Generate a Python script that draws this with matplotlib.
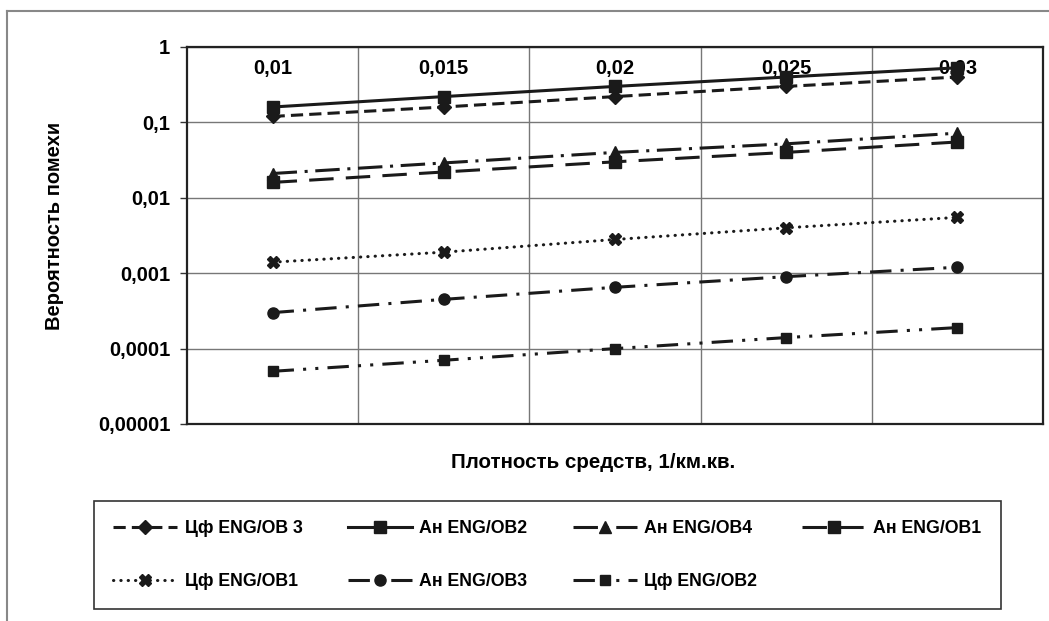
import numpy as np
import matplotlib
matplotlib.use("Agg")
import matplotlib.pyplot as plt
from matplotlib.lines import Line2D
from matplotlib.ticker import FixedLocator

plt.rcParams['font.family'] = ['Liberation Sans', 'DejaVu Sans']
plt.rcParams['font.weight'] = 'bold'

# density of means, 1/km^2 (category axis)
density = ["0,01", "0,015", "0,02", "0,025", "0,03"]

# interference probability per series
cf_ob3 = [0.12, 0.16, 0.22, 0.30, 0.40]
an_ob2 = [0.16, 0.22, 0.30, 0.40, 0.53]
an_ob4 = [0.021, 0.029, 0.040, 0.052, 0.072]
an_ob1 = [0.016, 0.022, 0.030, 0.040, 0.055]
cf_ob1 = [0.0014, 0.0019, 0.0028, 0.0040, 0.0055]
an_ob3 = [0.00030, 0.00045, 0.00065, 0.00090, 0.0012]
cf_ob2 = [0.00005, 0.00007, 0.00010, 0.00014, 0.00019]

W, H = 1049, 621
fig = plt.figure(figsize=(W / 100, H / 100), dpi=100)
ax = fig.add_axes([187 / W, 1 - 424 / H, 856 / W, 377 / H])

x = np.arange(len(density))
lw = 2.2
col = '#1a1a1a'

series = [
    ("Цф ENG/OB 3", cf_ob3, (0, (4, 2)), 'D', 7),
    ("Ан ENG/OB2", an_ob2, '-', 's', 9),
    ("Ан ENG/OB4", an_ob4, (0, (8, 2.5, 1, 2.5)), '^', 8),
    ("Ан ENG/OB1", an_ob1, (0, (8, 4)), 's', 8),
    ("Цф ENG/OB1", cf_ob1, (0, (0.1, 2.3)), 'X', 8),
    ("Ан ENG/OB3", an_ob3, (0, (7, 3, 1, 3)), 'o', 8),
    ("Цф ENG/OB2", cf_ob2, (0, (7, 3, 1, 3, 1, 3)), 's', 7),
]

handles = {}
for name, vals, ls, mk, ms in series:
    ln, = ax.plot(x, vals, color=col, lw=lw, linestyle=ls, marker=mk,
                  markersize=ms, markerfacecolor=col, markeredgecolor=col,
                  dash_capstyle='round' if mk == 'X' else 'butt', label=name)
    handles[name] = ln

ax.set_yscale('log')
ax.set_ylim(1e-5, 1)
ax.set_xlim(-0.5, len(density) - 0.5)

yt = [1, 0.1, 0.01, 0.001, 0.0001, 0.00001]
ylab = ["1", "0,1", "0,01", "0,001", "0,0001", "0,00001"]
ax.yaxis.set_major_locator(FixedLocator(yt))
ax.yaxis.set_minor_locator(FixedLocator([]))
ax.set_yticklabels(ylab)
ax.tick_params(axis='y', which='major', length=5, width=1, color='#333333',
               labelsize=14.5, pad=7)

ax.set_xticks(x)
ax.set_xticklabels(density)
ax.xaxis.set_minor_locator(FixedLocator(x[:-1] + 0.5))
ax.tick_params(axis='x', which='both', bottom=False, top=False,
               labelbottom=False, labeltop=True, length=0, labelsize=14.5,
               pad=-22)

ax.grid(True, which='major', axis='y', color='#777777', lw=1)
ax.grid(True, which='minor', axis='x', color='#777777', lw=1)
ax.set_axisbelow(True)
for s in ax.spines.values():
    s.set_linewidth(1.6)
    s.set_color('#222222')

fig.text(55 / W, 1 - 226 / H, "Вероятность помехи", rotation=90,
         ha='center', va='center', fontsize=14.5, fontweight='bold')
fig.text(593 / W, 1 - 462 / H, "Плотность средств, 1/км.кв.",
         ha='center', va='center', fontsize=14.8, fontweight='bold')

# outer chart frame
fig.add_artist(Line2D([7 / W, 1], [1 - 11 / H] * 2, transform=fig.transFigure,
                      color='#888888', lw=1.5))
fig.add_artist(Line2D([7 / W] * 2, [0, 1 - 11 / H], transform=fig.transFigure,
                      color='#888888', lw=1.5))

order = ["Цф ENG/OB 3", "Цф ENG/OB1", "Ан ENG/OB2", "Ан ENG/OB3",
         "Ан ENG/OB4", "Цф ENG/OB2", "Ан ENG/OB1"]
leg = fig.legend([handles[n] for n in order], order, ncol=4,
                 loc='center', mode='expand',
                 bbox_to_anchor=(85 / W, 1 - 610 / H, 925 / W, 110 / H),
                 bbox_transform=fig.transFigure,
                 fontsize=12.8, handlelength=3.6, handletextpad=0.4,
                 labelspacing=2.0, borderpad=1.1, fancybox=False,
                 edgecolor='#333333', framealpha=1)
leg.get_frame().set_linewidth(1.2)

fig.savefig("out.png", dpi=100)
